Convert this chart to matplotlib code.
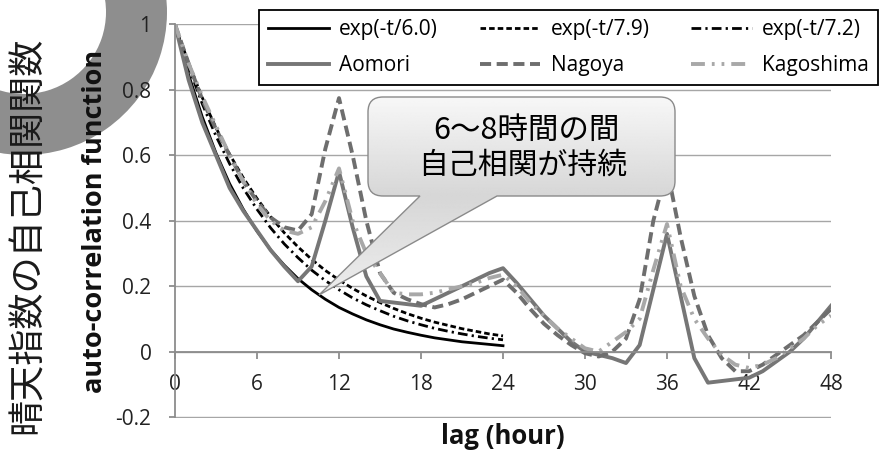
import numpy as np
import matplotlib
matplotlib.use('Agg')
import matplotlib.pyplot as plt
from matplotlib.patches import Wedge, PathPatch
from matplotlib.path import Path

plt.rcParams['font.family'] = ['Open Sans', 'DejaVu Sans']
plt.rcParams['lines.scale_dashes'] = False

# ---------------- data ----------------
hours = list(range(0, 49))
hours_exp = list(range(0, 25))

exp60 = [1.000, 0.846, 0.717, 0.607, 0.513, 0.435, 0.368, 0.311, 0.264, 0.223,
         0.189, 0.160, 0.135, 0.115, 0.097, 0.082, 0.069, 0.059, 0.050, 0.042,
         0.036, 0.030, 0.026, 0.022, 0.018]
exp79 = [1.000, 0.881, 0.776, 0.684, 0.603, 0.531, 0.468, 0.412, 0.363, 0.320,
         0.282, 0.248, 0.219, 0.193, 0.170, 0.150, 0.132, 0.116, 0.102, 0.090,
         0.080, 0.070, 0.062, 0.054, 0.048]
exp72 = [1.000, 0.870, 0.757, 0.659, 0.574, 0.499, 0.435, 0.378, 0.329, 0.287,
         0.249, 0.217, 0.189, 0.164, 0.143, 0.125, 0.108, 0.094, 0.082, 0.071,
         0.062, 0.054, 0.047, 0.041, 0.036]

aomori = [1.00, 0.83, 0.70, 0.60, 0.50, 0.43, 0.37, 0.31, 0.26, 0.215,
          0.26, 0.40, 0.55, 0.38, 0.23, 0.155, 0.15, 0.145, 0.14, 0.16,
          0.18, 0.20, 0.22, 0.24, 0.255, 0.21, 0.16, 0.11, 0.07, 0.03,
          0.00, -0.01, -0.02, -0.035, 0.02, 0.19, 0.36, 0.17, -0.02, -0.095,
          -0.09, -0.085, -0.08, -0.06, -0.03, 0.00, 0.04, 0.09, 0.14]
nagoya = [1.00, 0.88, 0.77, 0.68, 0.60, 0.52, 0.46, 0.41, 0.38, 0.37,
          0.42, 0.62, 0.775, 0.60, 0.40, 0.24, 0.18, 0.16, 0.145, 0.135,
          0.145, 0.16, 0.18, 0.20, 0.22, 0.18, 0.13, 0.085, 0.05, 0.02,
          -0.005, -0.015, 0.00, 0.04, 0.16, 0.40, 0.56, 0.35, 0.17, 0.05,
          -0.02, -0.06, -0.06, -0.04, -0.01, 0.02, 0.05, 0.09, 0.13]
kagoshima = [1.00, 0.88, 0.78, 0.69, 0.60, 0.52, 0.45, 0.40, 0.37, 0.36,
             0.38, 0.46, 0.56, 0.40, 0.30, 0.24, 0.18, 0.175, 0.175, 0.18,
             0.19, 0.20, 0.21, 0.225, 0.235, 0.20, 0.15, 0.11, 0.07, 0.04,
             0.01, 0.00, 0.03, 0.06, 0.10, 0.25, 0.39, 0.20, 0.10, 0.04,
             -0.01, -0.04, -0.05, -0.04, -0.02, 0.01, 0.04, 0.08, 0.11]

xticks = [0, 6, 12, 18, 24, 30, 36, 42, 48]
yticks = [-0.2, 0, 0.2, 0.4, 0.6, 0.8, 1.0]
ytick_labels = ['-0.2', '0', '0.2', '0.4', '0.6', '0.8', '1']

series_labels = ['exp(-t/6.0)', 'exp(-t/7.9)', 'exp(-t/7.2)', 'Aomori', 'Nagoya', 'Kagoshima']

# ---------------- figure ----------------
W, H = 886, 457
fig = plt.figure(figsize=(W / 100, H / 100), dpi=100)

# underlay (decorative crescent) in pixel coordinates
ax_u = fig.add_axes([0, 0, 1, 1], zorder=-1)
ax_u.set_xlim(0, W)
ax_u.set_ylim(0, H)
ax_u.axis('off')
ax_u.add_patch(Wedge((24, H - 12), 143, -200, 90, width=61,
                     facecolor='#8e8e8e', edgecolor='none'))

# main axes
ax = fig.add_axes([175 / W, 39 / H, 656 / W, 394.5 / H], zorder=0)
ax.set_facecolor('none')
ax.set_xlim(0, 48)
ax.set_ylim(-0.203, 1.003)

styles = [
    dict(color='black', lw=2.0, linestyle='-'),
    dict(color='black', lw=2.0, linestyle=(0, (4, 2.2))),
    dict(color='black', lw=2.0, linestyle=(0, (7, 3, 1.6, 3))),
    dict(color='#767676', lw=2.8, linestyle='-'),
    dict(color='#6e6e6e', lw=2.8, linestyle=(0, (8, 4))),
    dict(color='#a8a8a8', lw=2.8, linestyle=(0, (10, 5, 2, 5, 2, 5))),
]
data = [(hours_exp, exp60), (hours_exp, exp79), (hours_exp, exp72),
        (hours, aomori), (hours, nagoya), (hours, kagoshima)]
handles = []
for (xs, ys), st, lab in zip(data, styles, series_labels):
    ln, = ax.plot(xs, ys, label=lab, solid_joinstyle='round',
                  dash_joinstyle='round', dash_capstyle='butt', **st)
    handles.append(ln)

for s in ['top', 'right']:
    ax.spines[s].set_visible(False)
ax.spines['bottom'].set_position(('data', 0))
ax.spines['left'].set_bounds(-0.2, 1.0)
for s in ['bottom', 'left']:
    ax.spines[s].set_color('#8c8c8c')
    ax.spines[s].set_linewidth(1.3)

ax.set_xticks(xticks)
ax.set_xticklabels([str(v) for v in xticks])
ax.set_yticks(yticks)
ax.set_yticklabels(ytick_labels)
ax.yaxis.grid(True, color='#a6a6a6', lw=1.0)
ax.set_axisbelow(True)
ax.tick_params(axis='x', direction='out', length=5, width=1.3, color='#8c8c8c',
               pad=11, labelsize=15, labelcolor='#222222')
ax.tick_params(axis='y', direction='out', length=4, width=1.3, color='#8c8c8c',
               pad=13, labelsize=15, labelcolor='#222222')

# axis labels
fig.text(95 / W, 1 - 221 / H, 'auto-correlation function', rotation=90,
         ha='center', va='center', fontsize=19.5, fontweight='bold', color='#111111')
fig.text(503 / W, 1 - 437 / H, 'lag (hour)', ha='center', va='center',
         fontsize=18.5, fontweight='bold', color='#111111')
fig.text(28 / W, 1 - 235 / H, '晴天指数の自己相関関数', rotation=90,
         ha='center', va='center', fontsize=26, color='#1a1a1a',
         family=['Noto Sans CJK JP', 'DejaVu Sans'])

# legend
order = [0, 3, 1, 4, 2, 5]
leg = fig.legend([handles[i] for i in order], [series_labels[i] for i in order],
                 loc='upper left', bbox_to_anchor=(259 / W, 1 - 10 / H),
                 bbox_transform=fig.transFigure, ncol=3, fontsize=15,
                 frameon=True, fancybox=False, framealpha=1, edgecolor='black',
                 borderaxespad=0, borderpad=0.45, labelspacing=0.7,
                 handlelength=2.9, handletextpad=0.5, columnspacing=2.0)
leg.get_frame().set_linewidth(1.3)
leg.set_zorder(5)

# callout overlay in pixel coordinates
ax_o = fig.add_axes([0, 0, 1, 1], zorder=1)
ax_o.set_xlim(0, W)
ax_o.set_ylim(0, H)
ax_o.axis('off')

x0, x1 = 368, 675
yt, yb = H - 97, H - 196
r = 15
tip = (319, H - 295)
bl, br = 420, 497
verts = [(x0 + r, yb), (bl, yb), tip, (br, yb), (x1 - r, yb),
         (x1, yb), (x1, yb + r), (x1, yt - r), (x1, yt), (x1 - r, yt),
         (x0 + r, yt), (x0, yt), (x0, yt - r), (x0, yb + r), (x0, yb),
         (x0 + r, yb)]
codes = [Path.MOVETO, Path.LINETO, Path.LINETO, Path.LINETO, Path.LINETO,
         Path.CURVE3, Path.CURVE3, Path.LINETO, Path.CURVE3, Path.CURVE3,
         Path.LINETO, Path.CURVE3, Path.CURVE3, Path.LINETO, Path.CURVE3,
         Path.CURVE3]
path = Path(verts, codes)
patch = PathPatch(path, facecolor='none', edgecolor='#8a8a8a', lw=1.0, zorder=3)
ax_o.add_patch(patch)
ys_px = np.linspace(tip[1], yt, 200)
shade = np.interp(ys_px, [tip[1], yb, yt], [0.93, 0.84, 0.97])
grad = np.tile(shade[:, None], (1, 10))
im = ax_o.imshow(grad, extent=(tip[0], x1, tip[1], yt), origin='lower',
                 cmap='gray', vmin=0, vmax=1, aspect='auto', zorder=2,
                 interpolation='bilinear')
im.set_clip_path(patch)
ax_o.set_xlim(0, W)
ax_o.set_ylim(0, H)

jp = ['Noto Sans CJK JP', 'DejaVu Sans']
ax_o.text(526, H - 130, '6～8時間の間', ha='center', va='center',
          fontsize=22, family=jp, color='black', zorder=4)
ax_o.text(523, H - 165, '自己相関が持続', ha='center', va='center',
          fontsize=21.5, family=jp, color='black', zorder=4)

fig.savefig('out.png', dpi=100)
